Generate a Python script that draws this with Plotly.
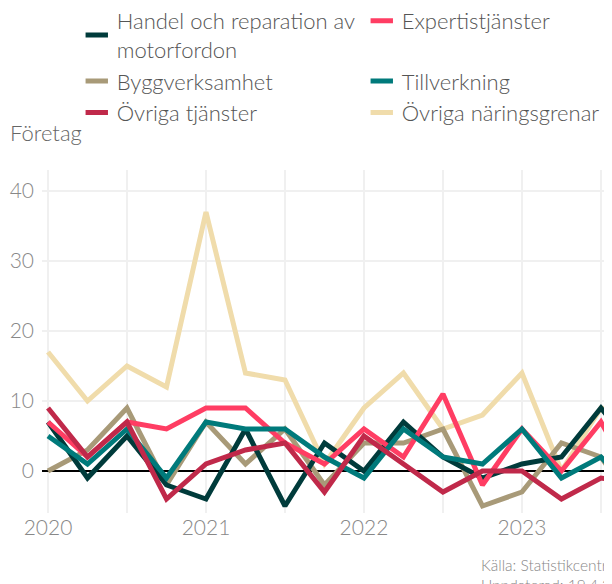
import plotly.graph_objects as go

quarters = [2020.0, 2020.25, 2020.5, 2020.75,
            2021.0, 2021.25, 2021.5, 2021.75,
            2022.0, 2022.25, 2022.5, 2022.75,
            2023.0, 2023.25, 2023.5, 2023.75]

handel = [7, -1, 5, -2, -4, 6, -5, 4, 0, 7, 2, -1, 1, 2, 9, 2]
expert = [7, 2, 7, 6, 9, 9, 4, 1, 6, 2, 11, -2, 6, 0, 7, -3]
bygg = [0, 3, 9, -2, 7, 1, 6, -2, 4, 4, 6, -5, -3, 4, 2, -6]
tillv = [5, 1, 6, -1, 7, 6, 6, 2, -1, 6, 2, 1, 6, -1, 2, -4]
ovr_tj = [9, 2, 7, -4, 1, 3, 4, -3, 5, 1, -3, 0, 0, -4, -1, -2]
ovr_nar = [17, 10, 15, 12, 37, 14, 13, 1, 9, 14, 6, 8, 14, 0, 9, 8]

names = ["Handel och reparation av<br>motorfordon", "Expertistjänster",
         "Byggverksamhet", "Tillverkning",
         "Övriga tjänster", "Övriga näringsgrenar"]
series = [handel, expert, bygg, tillv, ovr_tj, ovr_nar]
colors = ["#003b3b", "#ff3d63", "#a89a78", "#007a7b", "#c0294a", "#f0dcab"]
draw_order = [5, 2, 0, 1, 3, 4]

year_ticks = [2020, 2020.5, 2021, 2021.5, 2022, 2022.5, 2023, 2023.5]
year_labels = ["2020", "", "2021", "", "2022", "", "2023", ""]
y_ticks = [0, 10, 20, 30, 40]

FONT = "Lato"

fig = go.Figure()
for i in draw_order:
    fig.add_trace(go.Scatter(x=quarters, y=series[i], mode="lines", name=names[i],
                             line=dict(color=colors[i], width=5),
                             showlegend=False, hoverinfo="skip"))
for i in range(len(names)):
    fig.add_trace(go.Scatter(x=[None], y=[None], mode="markers", name=names[i],
                             marker=dict(symbol="line-ew", size=16,
                                         line=dict(color=colors[i], width=5)),
                             showlegend=True))

fig.update_layout(
    width=604, height=576,
    margin=dict(l=34, r=0, t=162, b=71, autoexpand=False),
    paper_bgcolor="white", plot_bgcolor="white",
    font=dict(family=FONT, color="#555555", weight=300),
    showlegend=True,
    legend=dict(orientation="h", x=0.061, xanchor="left",
                yref="paper", y=1.4956, yanchor="top",
                bgcolor="rgba(0,0,0,0)",
                entrywidth=240, font=dict(size=22, color="#555555", weight=300),
                traceorder="normal", itemclick=False),
    xaxis=dict(range=[2019.962, 2023.57], tickvals=year_ticks, ticktext=year_labels,
               showgrid=True, gridcolor="#f0f0f0", gridwidth=2,
               zeroline=False, showline=False, ticks="",
               tickfont=dict(size=21, color="#888888", family=FONT, weight=300)),
    yaxis=dict(range=[-6, 43], tickvals=y_ticks,
               showgrid=True, gridcolor="#f0f0f0", gridwidth=2,
               zeroline=True, zerolinecolor="#000000", zerolinewidth=1.5,
               showline=False, ticks="", ticklabelstandoff=7,
               tickfont=dict(size=21, color="#888888", family=FONT, weight=300)),
    annotations=[
        dict(text="Företag", xref="paper", yref="paper", x=-0.0596, y=1.108,
             xanchor="left", yanchor="middle", showarrow=False,
             font=dict(size=22, color="#666666", family=FONT, weight=300)),
        dict(text="Källa: Statistikcentralen<br>Uppdaterad: 19.4.2024",
             xref="paper", yref="paper", x=(479 - 42) / 570, y=-0.12,
             xanchor="left", yanchor="top", align="left", showarrow=False,
             font=dict(size=15.5, color="#888888", family=FONT, weight=300)),
    ],
)

fig.write_html("out.html")
